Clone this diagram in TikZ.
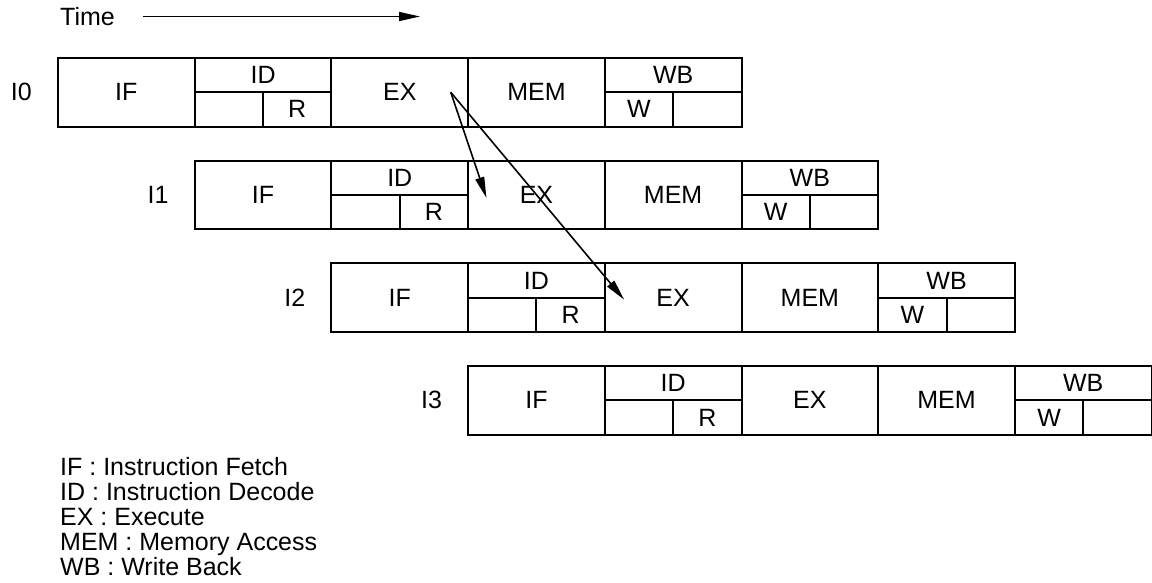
\documentclass[tikz,border=0pt]{standalone}
\usepackage{fontspec}
\setmainfont{Liberation Sans}
\usetikzlibrary{positioning,calc,arrows.meta}

\begin{document}
\begin{tikzpicture}[x=1pt,y=-1pt,node distance=0pt,inner sep=0pt,
  font=\fontsize{25}{25}\selectfont,
  >={Triangle[length=21pt,width=9pt]},
  stage/.style={rectangle,draw,line width=2pt,outer sep=0pt,minimum width=136.7pt,minimum height=68.5pt},
  split/.style={line width=2pt},
  fwd/.style={line width=1.6pt}]
\useasboundingbox (0,0) rectangle (1152,582);

\node[anchor=west] (time) at (60,16.5) {Time};
\coordinate[right=28pt of time] (tbeg);
\coordinate (tend) at (420,16.5);
\draw[->,fwd] (tbeg) -- (tend);

% I0
\node[stage,anchor=north west] (if0) at (58,58) {IF};
\node[stage,right=of if0] (id0) {};
\node[stage,right=of id0] (ex0) {EX};
\node[stage,right=of ex0] (mem0) {MEM};
\node[stage,right=of mem0] (wb0) {};
\node[left=26pt of if0] (lab0) {I0};
\draw[split] (id0.west) -- (id0.east) (id0.center) -- (id0.south) (wb0.west) -- (wb0.east) (wb0.center) -- (wb0.south);
\node (idt0) at ($(id0.north)!.5!(id0.center)$) {ID};
\node (r0) at ($(id0.south east)!.5!(id0.center)$) {R};
\node (wbt0) at ($(wb0.north)!.5!(wb0.center)$) {WB};
\node (w0) at ($(wb0.south west)!.5!(wb0.center)$) {W};

% I1
\node[stage,below=34.2pt of id0] (if1) {IF};
\node[stage,right=of if1] (id1) {};
\node[stage,right=of id1] (ex1) {EX};
\node[stage,right=of ex1] (mem1) {MEM};
\node[stage,right=of mem1] (wb1) {};
\node[left=26pt of if1] (lab1) {I1};
\draw[split] (id1.west) -- (id1.east) (id1.center) -- (id1.south) (wb1.west) -- (wb1.east) (wb1.center) -- (wb1.south);
\node (idt1) at ($(id1.north)!.5!(id1.center)$) {ID};
\node (r1) at ($(id1.south east)!.5!(id1.center)$) {R};
\node (wbt1) at ($(wb1.north)!.5!(wb1.center)$) {WB};
\node (w1) at ($(wb1.south west)!.5!(wb1.center)$) {W};

% I2
\node[stage,below=34.2pt of id1] (if2) {IF};
\node[stage,right=of if2] (id2) {};
\node[stage,right=of id2] (ex2) {EX};
\node[stage,right=of ex2] (mem2) {MEM};
\node[stage,right=of mem2] (wb2) {};
\node[left=26pt of if2] (lab2) {I2};
\draw[split] (id2.west) -- (id2.east) (id2.center) -- (id2.south) (wb2.west) -- (wb2.east) (wb2.center) -- (wb2.south);
\node (idt2) at ($(id2.north)!.5!(id2.center)$) {ID};
\node (r2) at ($(id2.south east)!.5!(id2.center)$) {R};
\node (wbt2) at ($(wb2.north)!.5!(wb2.center)$) {WB};
\node (w2) at ($(wb2.south west)!.5!(wb2.center)$) {W};

% I3
\node[stage,below=34.2pt of id2] (if3) {IF};
\node[stage,right=of if3] (id3) {};
\node[stage,right=of id3] (ex3) {EX};
\node[stage,right=of ex3] (mem3) {MEM};
\node[stage,right=of mem3] (wb3) {};
\node[left=26pt of if3] (lab3) {I3};
\draw[split] (id3.west) -- (id3.east) (id3.center) -- (id3.south) (wb3.west) -- (wb3.east) (wb3.center) -- (wb3.south);
\node (idt3) at ($(id3.north)!.5!(id3.center)$) {ID};
\node (r3) at ($(id3.south east)!.5!(id3.center)$) {R};
\node (wbt3) at ($(wb3.north)!.5!(wb3.center)$) {WB};
\node (w3) at ($(wb3.south west)!.5!(wb3.center)$) {W};

% forwarding out of EX
\coordinate (fw) at ($(ex0.center)+(51,0)$);
\coordinate (fw1) at ($(ex1.center)+(-50,3)$);
\coordinate (fw2) at ($(ex2.center)+(-49,2)$);
\draw[->,fwd] (fw) -- (fw1);
\draw[->,fwd] (fw) -- (fw2);

\node[anchor=north west,align=left] (legend) at (60,457) {IF : Instruction Fetch\\ID : Instruction Decode\\EX : Execute\\MEM : Memory Access\\WB : Write Back};
\end{tikzpicture}
\end{document}
